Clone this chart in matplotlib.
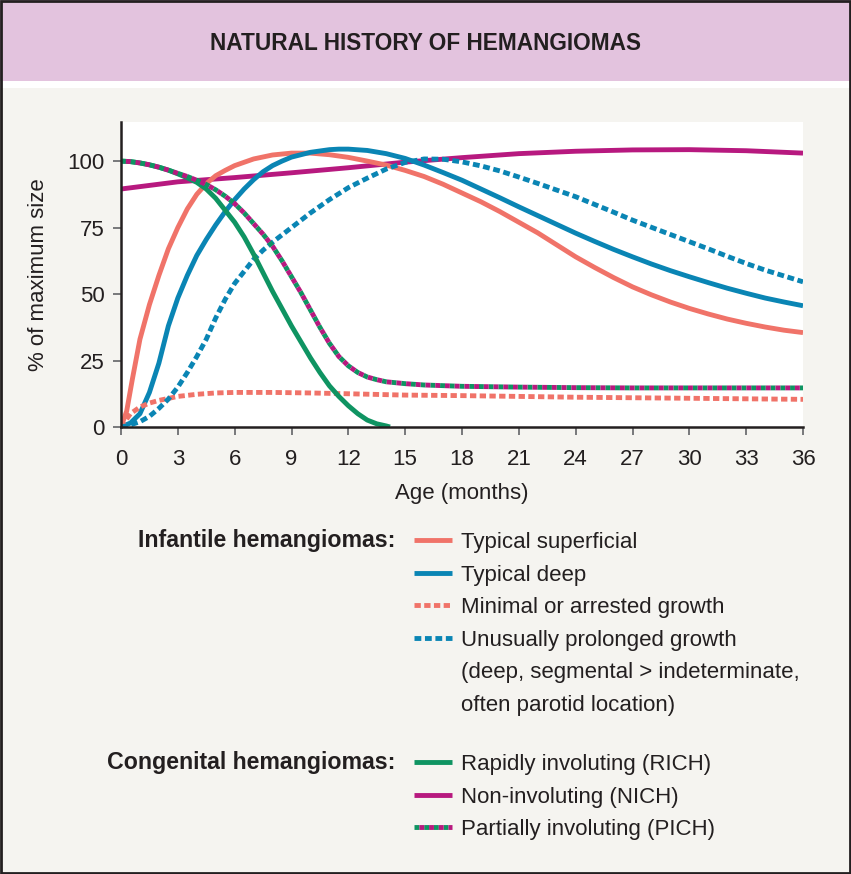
import matplotlib
matplotlib.use("Agg")
import matplotlib.pyplot as plt
from matplotlib.patches import Rectangle
from matplotlib.lines import Line2D
from matplotlib.legend_handler import HandlerTuple

plt.rcParams['font.family'] = ['Liberation Sans', 'DejaVu Sans']

# ---- data (age in months, % of maximum size) ----
sup_age = [0, 0.3, 0.6, 1.0, 1.5, 2, 2.5, 3, 3.5, 4, 4.5, 5, 5.5, 6, 7, 8, 9, 10, 11, 12,
           13, 14, 15, 16, 17, 18, 19, 20, 21, 22, 23, 24, 25, 26, 27, 28, 29, 30,
           31, 32, 33, 34, 35, 36]
sup_pct = [0, 6, 18, 33, 46, 57, 67, 75, 82, 87.5, 91.5, 94.5, 96.5, 98.3, 100.8, 102.3, 103, 103, 102.4, 101.4,
           100, 98.5, 96.5, 94.2, 91.3, 88, 84.7, 81, 77, 73, 68.5, 64, 60, 56.2, 52.7, 49.7, 47, 44.6,
           42.5, 40.6, 39, 37.6, 36.4, 35.5]

deep_age = [0, 0.5, 1, 1.5, 2, 2.5, 3, 3.5, 4, 4.5, 5, 5.5, 6, 6.5, 7, 7.5, 8, 8.5, 9, 10, 11, 11.5, 12,
            13, 14, 15, 16, 17, 18, 19, 20, 21, 22, 23, 24, 25, 26, 27, 28, 29, 30,
            31, 32, 33, 34, 35, 36]
deep_pct = [0, 1.5, 5, 13, 24, 38, 48.5, 57, 64.5, 70.5, 76, 81, 85.5, 89.5, 93, 96, 98.3, 100, 101.5, 103.3, 104.3, 104.5, 104.5,
            104, 102.8, 101, 98.5, 95.7, 92.8, 89.5, 86.2, 82.8, 79.5, 76.2, 72.9, 69.8, 66.8, 64, 61.3, 58.8, 56.5,
            54.3, 52.2, 50.3, 48.5, 47, 45.6]

min_age = [0, 0.5, 1, 1.5, 2, 3, 4, 5, 6, 8, 10, 12, 15, 18, 21, 24, 27, 30, 33, 36]
min_pct = [0, 5, 7.5, 9, 10, 11.5, 12.3, 12.8, 13, 13, 12.8, 12.5, 12, 11.8, 11.5, 11.2, 11, 10.8, 10.6, 10.4]

prol_age = [0, 0.5, 1, 1.5, 2, 2.5, 3, 3.5, 4, 4.5, 5, 5.5, 6, 6.5, 7, 7.5, 8, 9, 10, 11, 12, 13, 14, 15,
            16, 17, 18, 19, 20, 21, 22, 23, 24, 25, 26, 27, 28, 29, 30, 31, 32, 33, 34, 35, 36]
prol_pct = [0, 0.8, 2, 4, 7, 10.5, 15, 20.5, 26.5, 33, 41, 48, 54, 58.5, 63, 66.5, 69.5, 75, 80.5, 85.5, 90, 93.6, 97, 99.5,
            100.8, 100.7, 99.7, 98.2, 96.3, 94, 91.6, 89.1, 86.6, 83.7, 80.8, 77.8, 75.1, 72.4, 69.7, 67, 64.2, 61.5, 59, 56.8, 54.6]

rich_age = [0, 0.5, 1, 1.5, 2, 2.5, 3, 3.5, 4, 4.5, 5, 5.5, 6, 6.5, 7, 7.5, 8, 8.5, 9, 9.5, 10, 10.5,
            11, 11.5, 12, 12.5, 13, 13.5, 14, 14.2]
rich_pct = [100, 99.8, 99.3, 98.6, 97.7, 96.6, 95.2, 93.7, 92, 89.5, 86, 81.5, 77, 71.5, 65, 58, 51, 44.5, 38, 32, 26, 20.5,
            15.5, 11.5, 8, 5, 2.6, 1.2, 0.4, 0]

nich_age = [0, 3, 6, 9, 12, 15, 18, 21, 24, 27, 30, 33, 36]
nich_pct = [89.5, 92.2, 93.8, 95.6, 97.5, 99.6, 101.3, 102.8, 103.7, 104.2, 104.3, 103.9, 103]

pich_age = [0, 0.5, 1, 1.5, 2, 2.5, 3, 3.5, 4, 4.5, 5, 5.5, 6, 6.5, 7, 7.5, 8, 8.5, 9, 9.5, 10, 10.5,
            11, 11.5, 12, 12.5, 13, 13.5, 14, 15, 16, 18, 21, 24, 27, 30, 33, 36]
pich_pct = [100, 99.8, 99.3, 98.6, 97.7, 96.6, 95.4, 94.2, 92.8, 91.2, 89.2, 86.8, 84, 80.5, 76.5, 72.5, 68, 62.5, 56.5, 50.5, 44, 37.5,
            31.5, 26.5, 23, 20.5, 18.8, 17.8, 17, 16.3, 15.8, 15.3, 15, 14.8, 14.7, 14.7, 14.7, 14.7]

x_ticks = list(range(0, 37, 3))
y_ticks = [0, 25, 50, 75, 100]

infantile_labels = ['Typical superficial', 'Typical deep', 'Minimal or arrested growth',
                    'Unusually prolonged growth', '(deep, segmental > indeterminate,',
                    'often parotid location)']
congenital_labels = ['Rapidly involuting (RICH)', 'Non-involuting (NICH)',
                     'Partially involuting (PICH)']

SALMON = '#f07369'
BLUE = '#0a85b4'
GREEN = '#0f9462'
MAGENTA = '#b7197f'
INK = '#231f20'
BG = '#f5f4f0'
PINK = '#e3c3de'
LW = 3.5

fig = plt.figure(figsize=(8.51, 8.74), dpi=100, facecolor=BG)

# header band
fig.patches.append(Rectangle((0, 1 - 81 / 874), 1, 81 / 874, transform=fig.transFigure,
                             facecolor=PINK, edgecolor='none', zorder=0))
fig.patches.append(Rectangle((0, 1 - 88 / 874), 1, 7 / 874, transform=fig.transFigure,
                             facecolor='white', edgecolor='none', zorder=0))
fig.patches.append(Rectangle((0.001, 0.001), 0.998, 0.998, transform=fig.transFigure,
                             fill=False, edgecolor=INK, lw=2, zorder=5))
fig.text(0.5, 1 - 44 / 874, 'NATURAL HISTORY OF HEMANGIOMAS', ha='center', va='center',
         fontsize=16.3, weight='bold', color=INK)

ax = fig.add_axes([121 / 851, 1 - 427 / 874, (803 - 121) / 851, (427 - 122) / 874])
ax.set_facecolor('white')

l_nich, = ax.plot(nich_age, nich_pct, color=MAGENTA, lw=LW, solid_capstyle='butt')
l_sup, = ax.plot(sup_age, sup_pct, color=SALMON, lw=LW, solid_capstyle='butt')
l_deep, = ax.plot(deep_age, deep_pct, color=BLUE, lw=LW, solid_capstyle='butt')
l_min, = ax.plot(min_age, min_pct, color=SALMON, lw=LW, dashes=(1.3, 0.7), dash_capstyle='butt')
l_prol, = ax.plot(prol_age, prol_pct, color=BLUE, lw=LW, dashes=(1.4, 0.75), dash_capstyle='butt')
l_rich, = ax.plot(rich_age, rich_pct, color=GREEN, lw=LW, solid_capstyle='butt')
l_pich_g, = ax.plot(pich_age, pich_pct, color=GREEN, lw=LW, linestyle=(0, (1, 1)), dash_capstyle='butt')
l_pich_m, = ax.plot(pich_age, pich_pct, color=MAGENTA, lw=LW, linestyle=(1, (1, 1)), dash_capstyle='butt')

ax.set_xlim(0, 36)
ax.set_ylim(0, 114.7)
ax.set_xticks(x_ticks)
ax.set_yticks(y_ticks)
for side in ['top', 'right']:
    ax.spines[side].set_visible(False)
for side in ['left', 'bottom']:
    ax.spines[side].set_color(INK)
    ax.spines[side].set_linewidth(1.8)
ax.tick_params(length=6, width=1.3, color='#6d6e71', labelsize=16, labelcolor=INK)
ax.tick_params(axis='x', pad=10)
ax.tick_params(axis='y', pad=6)
ax.set_xlabel('Age (months)', fontsize=16, color=INK, labelpad=9)
ax.set_ylabel('% of maximum size', fontsize=16, color=INK, labelpad=13)

# legends
blank = Line2D([], [], color='none')
leg1 = fig.legend([l_sup, l_deep, l_min, l_prol, blank, blank], infantile_labels,
                  loc='upper left', bbox_to_anchor=(414 / 851, 1 - 532 / 874),
                  frameon=False, fontsize=16, handlelength=1.7, handletextpad=0.4,
                  labelspacing=0.52, borderpad=0, borderaxespad=0, labelcolor=INK)
leg2 = fig.legend([l_rich, l_nich, (l_pich_g, l_pich_m)], congenital_labels,
                  loc='upper left', bbox_to_anchor=(414 / 851, 1 - 754 / 874),
                  frameon=False, fontsize=16, handlelength=1.7, handletextpad=0.4,
                  labelspacing=0.52, borderpad=0, borderaxespad=0, labelcolor=INK,
                  handler_map={tuple: HandlerTuple(ndivide=1)})

fig.text(395 / 851, 1 - 540 / 874, 'Infantile hemangiomas:', ha='right', va='center',
         fontsize=16.7, weight='bold', color=INK)
fig.text(395 / 851, 1 - 762 / 874, 'Congenital hemangiomas:', ha='right', va='center',
         fontsize=16.7, weight='bold', color=INK)

fig.savefig('out.png', dpi=100, facecolor=BG)
